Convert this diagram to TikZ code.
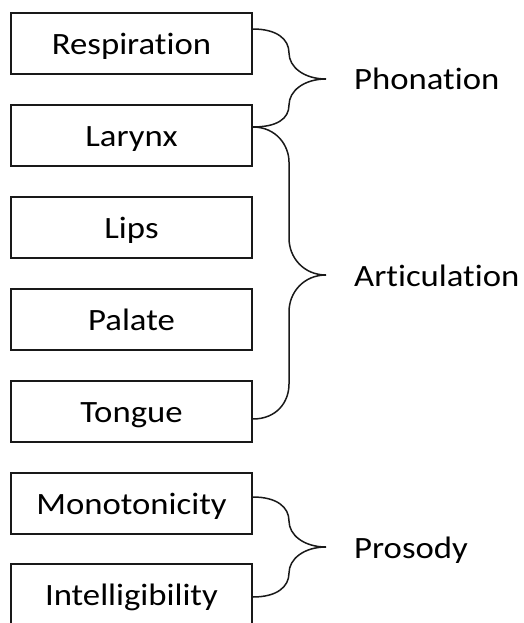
\documentclass[tikz,border=0pt]{standalone}
\usepackage{fontspec}
\setmainfont{Carlito}[Ligatures=NoCommon]
\newcommand\widetext[1]{\scalebox{1.12}[1]{#1}}
\begin{document}
\begin{tikzpicture}[x=1pt,y=-1pt,
  ink/.style={draw=black!90},
  item/.style={ink, line width=1.5pt, minimum width=241pt, minimum height=61pt,
    inner sep=0pt, text height=30pt, text depth=8pt,
    font=\fontsize{31}{36}\selectfont, text=black},
  group/.style={anchor=base west, inner sep=0pt, font=\fontsize{31}{36}\selectfont, text=black},
  brace/.style={ink, line width=1.5pt}]
\useasboundingbox (0,0) rectangle (524,623);

% stacked boxes
\node[item] (resp) at (131.5,43.5)  {\widetext{Respiration}};
\node[item] (lar)  at (131.5,135.5) {\widetext{Larynx}};
\node[item] (lips) at (131.5,227.5) {\widetext{Lips}};
\node[item] (pal)  at (131.5,319.5) {\widetext{Palate}};
\node[item] (ton)  at (131.5,411.5) {\widetext{Tongue}};
\node[item] (mono) at (131.5,503.5) {\widetext{Monotonicity}};
\node[item] (intl) at (131.5,594.5) {\widetext{Intelligibility}};

% brace tips
\coordinate (ph) at (326,79);
\coordinate (ar) at (326,275);
\coordinate (pr) at (326,547);

% group labels
\node[group] (phl) at (354,90)  {\widetext{Phonation}};
\node[group] (arl) at (354,286) {\widetext{Articulation}};
\node[group] (prl) at (354,558) {\widetext{Prosody}};

% curly braces
\draw[brace] ([yshift=14.5pt]resp.east) .. controls +(24,0) and +(0,-14) .. (289,53)
  .. controls +(0,14) and +(-22,0) .. (ph)
  .. controls +(-22,0) and +(0,-14) .. (289,105)
  .. controls +(0,14) and +(24,0) .. ([yshift=8.5pt]lar.east);

\draw[brace] ([yshift=8.5pt]lar.east) .. controls +(24,0) and +(0,-16) .. (289,162)
  -- (289,238)
  .. controls +(0,20) and +(-22,0) .. (ar)
  .. controls +(-22,0) and +(0,-20) .. (289,312)
  -- (289,384)
  .. controls +(0,18) and +(24,0) .. ([yshift=-7.5pt]ton.east);

\draw[brace] ([yshift=6.5pt]mono.east) .. controls +(24,0) and +(0,-14) .. (289,521)
  .. controls +(0,14) and +(-22,0) .. (pr)
  .. controls +(-22,0) and +(0,-14) .. (289,573)
  .. controls +(0,14) and +(24,0) .. ([yshift=-2.5pt]intl.east);
\end{tikzpicture}
\end{document}
